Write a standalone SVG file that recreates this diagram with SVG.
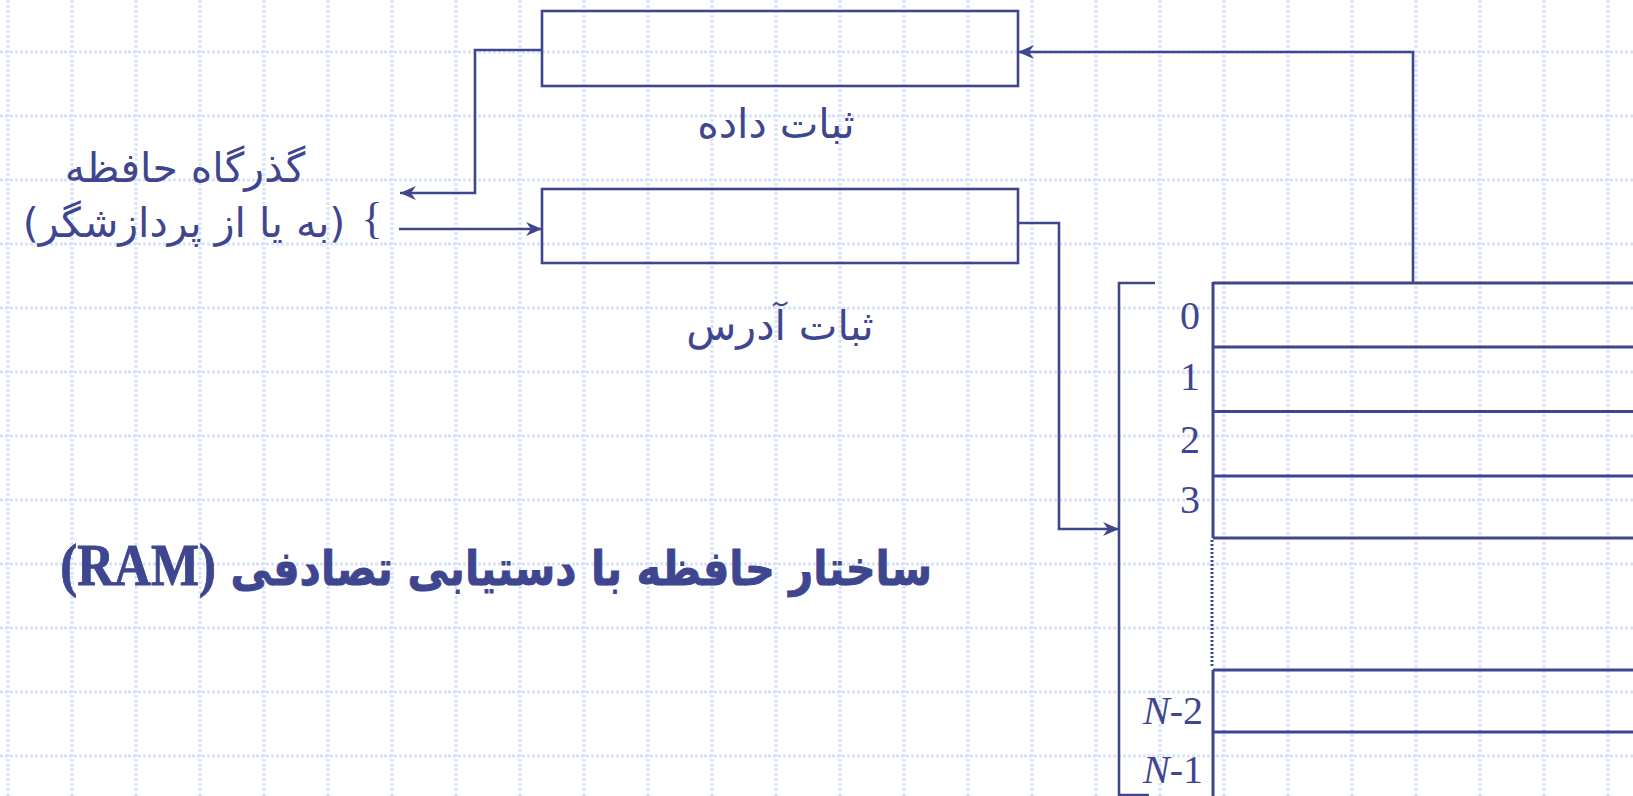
<svg xmlns="http://www.w3.org/2000/svg" width="1633" height="796" viewBox="0 0 1633 796">
<defs>
<style>
.g{stroke:#d8e2fb;stroke-width:3;stroke-dasharray:3 2;fill:none}
.box{fill:none;stroke:#3f4690;stroke-width:2.6}
.ln{fill:none;stroke:#3f4690;stroke-width:2.6}
.row{fill:none;stroke:#3f4690;stroke-width:3}
.fa{font-family:'DejaVu Sans',sans-serif;fill:#3f4690;font-size:41px}
.num{font-family:'Liberation Serif',serif;font-size:40px;fill:#3f4690}
</style>
<pattern id="grid" patternUnits="userSpaceOnUse" width="64" height="64">
<line x1="8" y1="0" x2="8" y2="64" class="g"/>
<line x1="0" y1="52" x2="64" y2="52" class="g"/>
</pattern>
<marker id="arr" markerUnits="userSpaceOnUse" markerWidth="18" markerHeight="16" refX="16" refY="7" orient="auto">
<path d="M0,0 L16,7 L0,14 L5,7 Z" fill="#3f4690"/>
</marker>
</defs>
<rect width="1633" height="796" fill="#ffffff"/>
<rect width="1633" height="796" fill="url(#grid)"/>

<g id="data-register">
<rect class="box" x="542" y="11" width="476" height="75"/>
<text class="fa" x="776" y="138" text-anchor="middle" direction="rtl">ثبات داده</text>
</g>

<g id="address-register">
<rect class="box" x="542" y="189" width="476" height="74"/>
<text class="fa" x="780" y="340" text-anchor="middle" direction="rtl">ثبات آدرس</text>
</g>

<g id="memory-bus">
<text class="fa" x="185" y="182" text-anchor="middle" direction="rtl">گذرگاه حافظه</text>
<text class="fa" x="184" y="237" font-size="43" text-anchor="middle" direction="rtl">(به یا از پردازشگر)</text>
<text x="372" y="233" font-family="'Liberation Serif',serif" font-size="45" fill="#3f4690" text-anchor="middle">{</text>
</g>

<g id="memory">
<polyline class="ln" points="1155,283 1119,283 1119,795 1149,795"/>
<line class="row" x1="1213" y1="283" x2="1633" y2="283"/>
<line class="row" x1="1213" y1="347" x2="1633" y2="347" stroke-width="4"/>
<line class="row" x1="1213" y1="411.5" x2="1633" y2="411.5"/>
<line class="row" x1="1213" y1="476" x2="1633" y2="476"/>
<line class="row" x1="1213" y1="538" x2="1633" y2="538"/>
<line class="row" x1="1213" y1="670" x2="1633" y2="670"/>
<line class="row" x1="1213" y1="732" x2="1633" y2="732"/>
<line class="row" x1="1213" y1="282" x2="1213" y2="538"/>
<line class="row" x1="1212" y1="540" x2="1212" y2="668" stroke-dasharray="2 2" stroke-width="2.5"/>
<line class="row" x1="1213" y1="670" x2="1213" y2="796"/>
<text class="num" x="1190" y="329" text-anchor="middle">0</text>
<text class="num" x="1190" y="390" text-anchor="middle">1</text>
<text class="num" x="1190" y="453" text-anchor="middle">2</text>
<text class="num" x="1190" y="513" text-anchor="middle">3</text>
<text class="num" x="1203" y="724" text-anchor="end"><tspan font-style="italic">N</tspan>-2</text>
<text class="num" x="1203" y="783" text-anchor="end"><tspan font-style="italic">N</tspan>-1</text>
</g>

<g id="title">
<text transform="scale(1,1.15)" x="932" y="508.7" font-family="'DejaVu Sans',sans-serif" font-size="41.5" font-weight="bold" fill="#3f4690" stroke="#3f4690" stroke-width="0.8" text-anchor="start" direction="rtl">ساختار حافظه با دستیابی تصادفی <tspan font-family="'Liberation Serif',serif" font-size="51">(RAM)</tspan></text>
</g>

<g id="connectors">
<polyline class="ln" points="542,50 475,50 475,193 400,193" marker-end="url(#arr)"/>
<line class="ln" x1="399" y1="229" x2="542" y2="229" marker-end="url(#arr)"/>
<polyline class="ln" points="1018,223 1059,223 1059,529 1119,529" marker-end="url(#arr)"/>
<polyline class="ln" points="1413,283 1413,52 1018,52" marker-end="url(#arr)"/>
</g>
</svg>
